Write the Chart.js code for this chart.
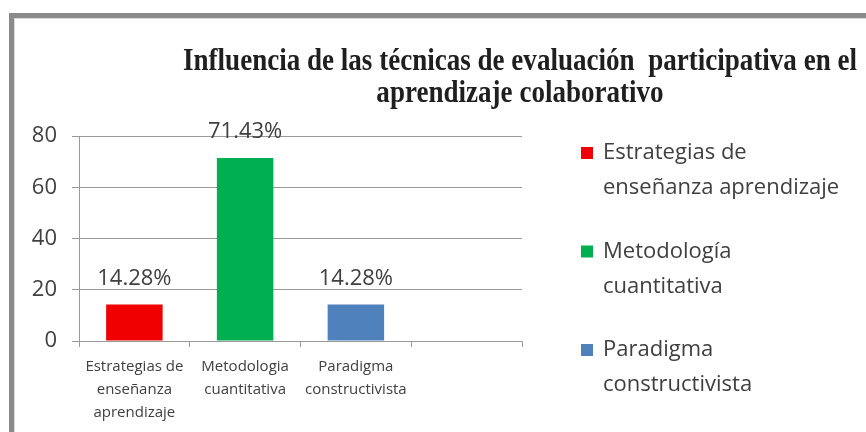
<!DOCTYPE html>
<html>
<head>
<meta charset="utf-8">
<script src="https://cdn.jsdelivr.net/npm/chart.js@4/dist/chart.umd.min.js"></script>
<style>
  html, body { margin: 0; padding: 0; background: #fff; }
  #frame {
    position: absolute; left: 9px; top: 13px; width: 900px; height: 500px;
    border-top: 5px solid #8a8a8a; border-left: 5px solid #8a8a8a;
    box-shadow: inset 1px 1px 0 #d9d9d9;
  }
  #chart { position: absolute; left: 0; top: 0; }
</style>
</head>
<body>
<div id="frame"></div>
<canvas id="chart" width="866" height="432"></canvas>
<script>
var titleLines = ["Influencia de las técnicas de evaluación  participativa en el", "aprendizaje colaborativo"];
var categories = [["Estrategias de", "enseñanza", "aprendizaje"], ["Metodologia", "cuantitativa"], ["Paradigma", "constructivista"], ""];
var values = [14.28, 71.43, 14.28, null];
var barColors = ["#f00000", "#00b050", "#4f81bd", "#ffffff"];
var legendLabels = [["Estrategias de", "enseñanza aprendizaje"], ["Metodología", "cuantitativa"], ["Paradigma", "constructivista"]];
var yTicks = [0, 20, 40, 60, 80];

var textColor = "#404040";
var lineColor = "#9a9a9a";

// title, value labels and legend drawn on the canvas
var extras = {
  id: "extras",
  afterDatasetsDraw: function(chart) {
    var ctx = chart.ctx;
    ctx.save();
    ctx.font = '22px "Open Sans"';
    ctx.fillStyle = textColor;
    ctx.textAlign = "center";
    ctx.textBaseline = "middle";
    chart.getDatasetMeta(0).data.forEach(function(bar, i) {
      if (values[i] == null) return;
      ctx.fillText(values[i].toFixed(2) + "%", bar.x, bar.y - 26);
    });
    ctx.restore();
  },
  afterDraw: function(chart) {
    var ctx = chart.ctx;
    ctx.save();
    ctx.font = 'bold 31px "Liberation Serif"';
    ctx.fillStyle = "#1f1f1f";
    ctx.textAlign = "center";
    ctx.textBaseline = "alphabetic";
    var sx = 674 / ctx.measureText(titleLines[0]).width;
    titleLines.forEach(function(t, i) {
      ctx.save();
      ctx.translate(520, 70 + i * 32);
      ctx.scale(sx, 1);
      ctx.fillText(t, 0, 0);
      ctx.restore();
    });

    ctx.font = '22px "Open Sans"';
    ctx.textAlign = "left";
    ctx.textBaseline = "middle";
    legendLabels.forEach(function(lines, i) {
      var y = 153 + i * 98.5;
      ctx.fillStyle = barColors[i];
      ctx.fillRect(581, y - 6, 12, 12);
      ctx.fillStyle = textColor;
      lines.forEach(function(l, j) {
        ctx.fillText(l, 603, y + j * 35);
      });
    });
    ctx.restore();
  }
};

new Chart(document.getElementById("chart").getContext("2d"), {
  type: "bar",
  data: {
    labels: categories,
    datasets: [{
      data: values,
      backgroundColor: barColors,
      barPercentage: 0.51,
      categoryPercentage: 1
    }]
  },
  options: {
    responsive: false,
    animation: false,
    layout: { padding: { left: 15, top: 136, right: 344, bottom: 0 } },
    plugins: { legend: { display: false }, title: { display: false }, tooltip: { enabled: false } },
    scales: {
      y: {
        min: yTicks[0],
        max: yTicks[yTicks.length - 1],
        afterBuildTicks: function(scale) {
          scale.ticks = yTicks.map(function(v) { return { value: v }; });
        },
        afterFit: function(scale) { scale.width = 64; },
        ticks: { font: { family: "Open Sans", size: 22 }, color: textColor, padding: 15 },
        grid: { color: lineColor, tickLength: 7 },
        border: { color: lineColor }
      },
      x: {
        afterFit: function(scale) { scale.height = 91; },
        ticks: { font: { family: "Open Sans", size: 15, lineHeight: "23px" }, color: textColor, padding: 8, maxRotation: 0, autoSkip: false },
        grid: { offset: true, drawOnChartArea: false, color: lineColor, tickLength: 6 },
        border: { color: lineColor }
      }
    }
  },
  plugins: [extras]
});
</script>
</body>
</html>
